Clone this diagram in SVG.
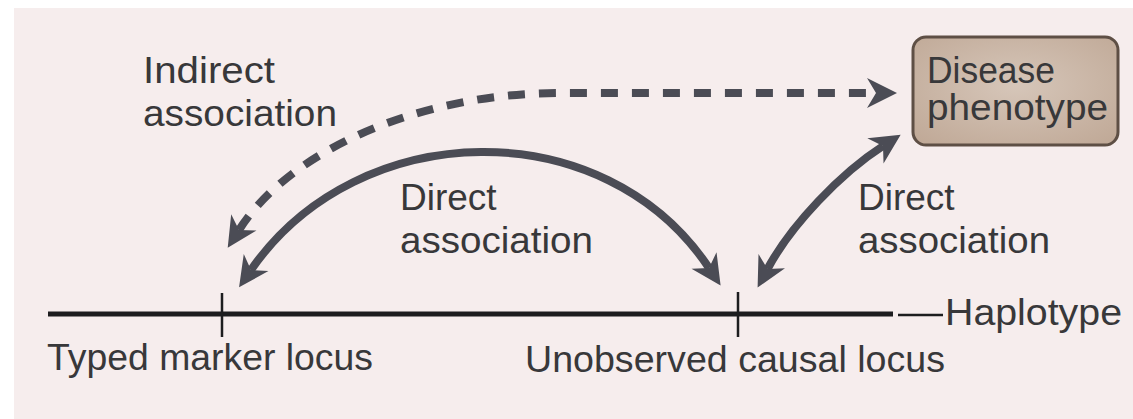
<svg xmlns="http://www.w3.org/2000/svg" width="1133" height="419" viewBox="0 0 1133 419">
<defs>
<style>
.t{font-family:"Liberation Sans",Arial,sans-serif;font-size:37px;fill:#38383a}
.arc{fill:none;stroke:#4b4c55;stroke-width:8}
.dash{stroke-dasharray:17 14}
.hap{stroke:#1d1d1f;fill:none}
</style>
<marker id="ah" markerUnits="userSpaceOnUse" viewBox="-2 -17 36 34" markerWidth="36" markerHeight="34" refX="9" refY="0" orient="auto-start-reverse">
<path d="M30,0 L0,-15 L9,0 L0,15 Z" fill="#4b4c55"/>
</marker>
<radialGradient id="bx" cx="0.5" cy="0.45" r="0.7">
<stop offset="0" stop-color="#d6c6b9"/>
<stop offset="1" stop-color="#c0a997"/>
</radialGradient>
</defs>
<rect x="0" y="0" width="1133" height="419" fill="#ffffff"/>
<rect x="14" y="8" width="1119" height="411" fill="#f6eded"/>

<g id="haplotype">
<line class="hap" x1="48" y1="314" x2="893" y2="314" stroke-width="5"/>
<line class="hap" x1="898" y1="315" x2="943" y2="315" stroke-width="2.5"/>
<line class="hap" x1="222" y1="293" x2="222" y2="337" stroke-width="2.5"/>
<line class="hap" x1="738" y1="292" x2="738" y2="337" stroke-width="2.5"/>
<text class="t" x="945" y="325" textLength="177" lengthAdjust="spacingAndGlyphs">Haplotype</text>
</g>

<g id="typed-marker">
<text class="t" x="47" y="370" textLength="326" lengthAdjust="spacingAndGlyphs">Typed marker locus</text>
</g>

<g id="causal-locus">
<text class="t" x="525" y="372" textLength="420" lengthAdjust="spacingAndGlyphs">Unobserved causal locus</text>
</g>

<g id="disease-phenotype">
<rect x="913" y="37" width="205" height="108" rx="13" ry="13" fill="url(#bx)" stroke="#5e4f45" stroke-width="3"/>
<text class="t" x="927" y="83" textLength="128" lengthAdjust="spacingAndGlyphs">Disease</text>
<text class="t" x="927" y="120" textLength="181" lengthAdjust="spacingAndGlyphs">phenotype</text>
</g>

<g id="connectors">
<path class="arc dash" d="M239,230 C290,150 420,93 560,93 L876,93" marker-start="url(#ah)" marker-end="url(#ah)"/>
<path class="arc" d="M251,270 C358,115 605,111 709,268" marker-start="url(#ah)" marker-end="url(#ah)"/>
<path class="arc" d="M767.5,269 C791,225 841,173 883,146" marker-start="url(#ah)" marker-end="url(#ah)"/>
</g>

<g id="labels">
<text class="t" x="143" y="83" textLength="132" lengthAdjust="spacingAndGlyphs">Indirect</text>
<text class="t" x="143" y="126" textLength="194" lengthAdjust="spacingAndGlyphs">association</text>
<text class="t" x="400" y="210">Direct</text>
<text class="t" x="400" y="253" textLength="193" lengthAdjust="spacingAndGlyphs">association</text>
<text class="t" x="858" y="210">Direct</text>
<text class="t" x="858" y="253" textLength="192" lengthAdjust="spacingAndGlyphs">association</text>
</g>
</svg>
